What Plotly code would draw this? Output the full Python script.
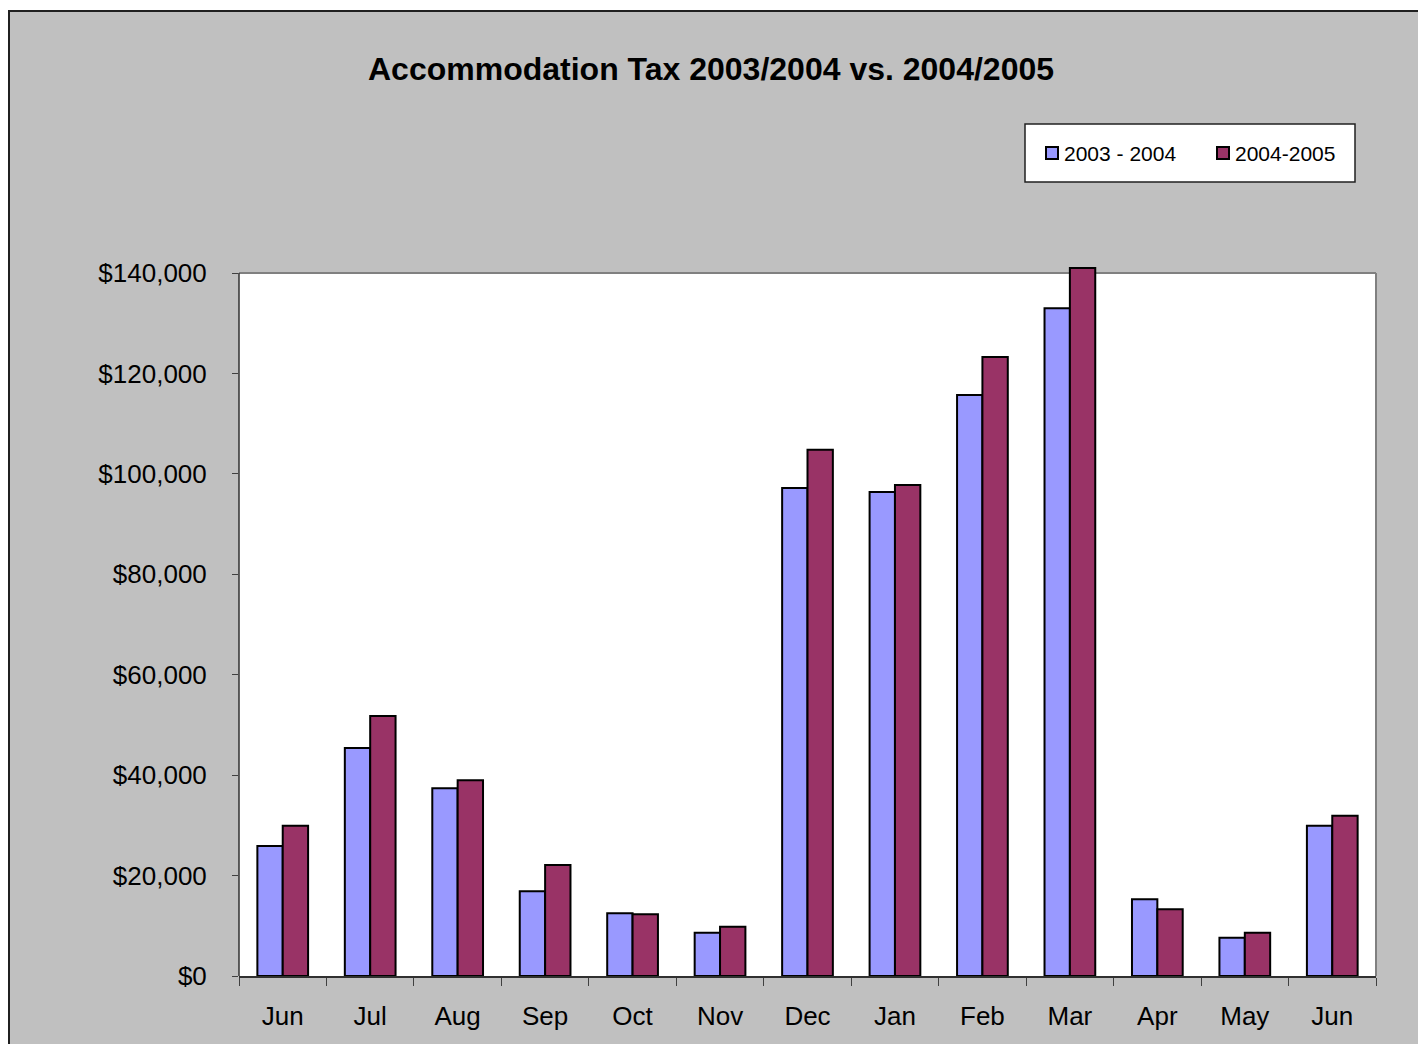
import plotly.graph_objects as go

periods = ["2004-06", "2004-07", "2004-08", "2004-09", "2004-10", "2004-11", "2004-12",
           "2005-01", "2005-02", "2005-03", "2005-04", "2005-05", "2005-06"]
months = ["Jun", "Jul", "Aug", "Sep", "Oct", "Nov", "Dec", "Jan", "Feb", "Mar", "Apr", "May", "Jun"]
series_names = ["2003 - 2004", "2004-2005"]
series_colors = ["#9999FF", "#993366"]
tax_2003_2004 = [25900, 45400, 37400, 16900, 12500, 8600, 97200, 96400, 115700, 133000, 15300, 7600, 29900]
tax_2004_2005 = [29900, 51800, 39000, 22100, 12300, 9800, 104800, 97800, 123300, 141000, 13300, 8600, 31900]
y_ticks = [0, 20000, 40000, 60000, 80000, 100000, 120000, 140000]
y_max = 140000
y_range_top = 142000

fig = go.Figure()
for name, color, vals in zip(series_names, series_colors, [tax_2003_2004, tax_2004_2005]):
    fig.add_trace(go.Bar(x=periods, y=vals, name=name,
                         marker=dict(color=color, line=dict(color="black", width=2)),
                         cliponaxis=False))

# page-pixel geometry (page has 8px body margin)
OFF = 8
W0, W1 = 239, 1376
B0 = 976
PLOT_H = 703 * y_range_top / y_max
T0 = B0 - PLOT_H

def px(x):
    return (x - W0) / (W1 - W0)
def py(y):
    return (B0 - y) / PLOT_H

shapes = [
    # white plot area up to $140,000
    dict(type="rect", xref="paper", yref="y", x0=0, x1=1, y0=0, y1=y_max,
         fillcolor="white", line=dict(width=0), layer="below"),
    dict(type="line", xref="paper", yref="y", x0=0, x1=1, y0=y_max, y1=y_max,
         line=dict(color="#808080", width=2), layer="below"),
    dict(type="line", xref="paper", yref="y", x0=1, x1=1, y0=0, y1=y_max,
         line=dict(color="#808080", width=2), layer="below"),
    dict(type="line", xref="paper", yref="y", x0=0, x1=0, y0=0, y1=y_max,
         line=dict(color="#303030", width=1.5)),
    # white margins outside the chart border
    dict(type="rect", xref="paper", yref="paper", x0=px(1420), x1=px(1440),
         y0=py(0), y1=py(1060), fillcolor="white", line=dict(width=0)),
    dict(type="rect", xref="paper", yref="paper", x0=px(0), x1=px(1440),
         y0=py(0), y1=py(10), fillcolor="white", line=dict(width=0)),
    # chart border
    dict(type="rect", xref="paper", yref="paper",
         x0=px(9), x1=px(1419), y0=py(11), y1=py(1070),
         line=dict(color="#202020", width=2)),
    # legend box
    dict(type="rect", xref="paper", yref="paper",
         x0=px(1025), x1=px(1355), y0=py(124), y1=py(182),
         fillcolor="white", line=dict(color="#202020", width=1.5)),
]
annotations = []
legend_x = [1046, 1217]
for name, color, lx in zip(series_names, series_colors, legend_x):
    shapes.append(dict(type="rect", xref="paper", yref="paper",
                       x0=px(lx), x1=px(lx + 12), y0=py(147), y1=py(159),
                       fillcolor=color, line=dict(color="black", width=2)))
    annotations.append(dict(text=name, xref="paper", yref="paper",
                            x=px(lx + 16), y=py(153), xanchor="left", yanchor="middle",
                            showarrow=False, font=dict(size=21, color="black")))

fig.update_layout(
    width=1426, height=1044,
    margin=dict(l=W0 - OFF, r=1426 + OFF - W1, t=T0 - OFF, b=1044 + OFF - B0),
    paper_bgcolor="#C0C0C0",
    plot_bgcolor="rgba(0,0,0,0)",
    barmode="group",
    bargap=0.42,
    bargroupgap=0,
    font=dict(family="Liberation Sans, Arial, sans-serif", color="black"),
    title=dict(text="<b>Accommodation Tax 2003/2004 vs. 2004/2005</b>",
               xref="paper", x=px(711), xanchor="center",
               yref="container", y=1 - (69 - OFF) / 1044, yanchor="middle",
               font=dict(size=32, color="black")),
    showlegend=False,
    xaxis=dict(type="category", categoryorder="array", categoryarray=periods,
               tickmode="array", tickvals=periods, ticktext=months,
               showline=True, linecolor="#303030", linewidth=1.5,
               ticks="outside", ticklen=8, tickcolor="#404040",
               tickson="boundaries", showgrid=False,
               tickfont=dict(size=26), ticklabelstandoff=16),
    yaxis=dict(range=[0, y_range_top], tickvals=y_ticks, tickformat="$,.0f",
               showline=False,
               ticks="outside", ticklen=6, tickcolor="#404040",
               showgrid=False, zeroline=False, tickfont=dict(size=26),
               ticklabelstandoff=20),
    shapes=shapes,
    annotations=annotations,
)

fig.write_html("out.html")
